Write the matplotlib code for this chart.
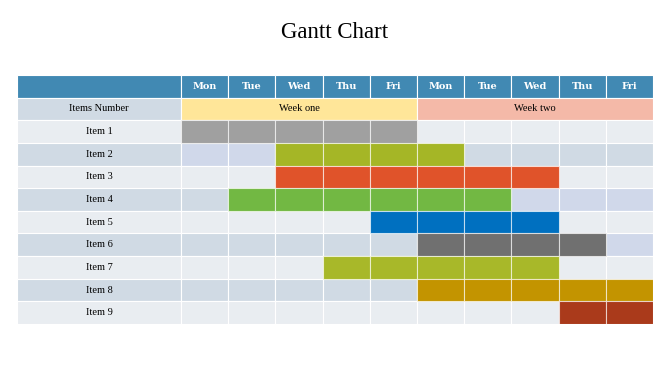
import matplotlib
matplotlib.use("Agg")
import matplotlib.pyplot as plt
from matplotlib.patches import Rectangle

title = "Gantt Chart"
days = ["Mon", "Tue", "Wed", "Thu", "Fri", "Mon", "Tue", "Wed", "Thu", "Fri"]
weeks = ["Week one", "Week two"]
items = ["Item 1", "Item 2", "Item 3", "Item 4", "Item 5", "Item 6", "Item 7", "Item 8", "Item 9"]
starts = [0, 2, 2, 1, 4, 5, 3, 5, 8]
durations = [5, 4, 6, 6, 4, 4, 5, 5, 2]
task_colors = ["#A0A0A0", "#A5B626", "#E0532A", "#72B843", "#0070C0",
               "#707070", "#A8B829", "#C39400", "#AA3A1B"]
# highlighted (lavender) empty cells: (item index, day index)
lavender_cells = [(1, 0), (1, 1), (3, 7), (3, 8), (3, 9), (5, 9)]

header_color = "#4189B3"
week_colors = ["#FFE699", "#F4B9A8"]
row_light = "#E9EDF1"
row_dark = "#D0DAE4"
lavender = "#D0D8EA"

fig = plt.figure(figsize=(6.7, 3.76), dpi=100)
fig.text(0.5, 1 - 38 / 376, title, ha="center", va="baseline",
         fontsize=16.5, family="Liberation Serif")

L, R, T, B = 17, 653, 75, 324
ax = fig.add_axes([L / 670, 1 - B / 376, (R - L) / 670, (B - T) / 376])
col_w = (R - L - 164) / 10
label_w = 164 / col_w
n_rows = len(items) + 2
ax.set_xlim(-label_w, len(days))
ax.set_ylim(n_rows - 2, -2)
ax.axis("off")

serif = "Liberation Serif"
ec = "white"
lw = 0.8

# header row
ax.add_patch(Rectangle((-label_w, -2), label_w, 1, facecolor=header_color, edgecolor=ec, lw=lw))
for i, d in enumerate(days):
    ax.add_patch(Rectangle((i, -2), 1, 1, facecolor=header_color, edgecolor=ec, lw=lw))
    ax.text(i + 0.5, -1.5, d, ha="center", va="center", color="white",
            fontsize=7, fontweight="bold", family="DejaVu Serif")

# week row
ax.add_patch(Rectangle((-label_w, -1), label_w, 1, facecolor=row_dark, edgecolor=ec, lw=lw))
ax.text(-label_w / 2, -0.5, "Items Number", ha="center", va="center", fontsize=7.5, family=serif)
for w, (wk, c) in enumerate(zip(weeks, week_colors)):
    ax.add_patch(Rectangle((w * 5, -1), 5, 1, facecolor=c, edgecolor=ec, lw=lw))
    ax.text(w * 5 + 2.5, -0.5, wk, ha="center", va="center", fontsize=7.5, family=serif)

# item rows
for r, name in enumerate(items):
    base = row_light if r % 2 == 0 else row_dark
    ax.add_patch(Rectangle((-label_w, r), label_w, 1, facecolor=base, edgecolor=ec, lw=lw))
    ax.text(-label_w / 2, r + 0.5, name, ha="center", va="center", fontsize=7.5, family=serif)
    for d in range(len(days)):
        c = lavender if (r, d) in lavender_cells else base
        ax.add_patch(Rectangle((d, r), 1, 1, facecolor=c, edgecolor=ec, lw=lw))

# task bars
for r, (s, du, c) in enumerate(zip(starts, durations, task_colors)):
    for d in range(s, s + du):
        ax.barh(r + 0.5, 1, left=d, height=1, color=c, edgecolor=(1, 1, 1, 0.6), linewidth=lw)

fig.savefig("out.png", dpi=100)
